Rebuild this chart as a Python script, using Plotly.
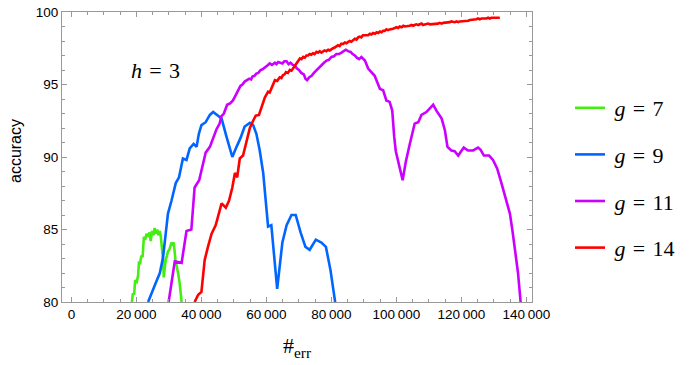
import plotly.graph_objects as go

# ---------------- data ----------------
g7_x = [18600, 18900, 19300, 19600, 20100, 20500, 20800, 21100, 21500, 21900, 22300, 22700,
        23100, 23500, 24000, 24400, 24800, 25200, 25600, 26000, 26400, 26800, 27200, 27500,
        27900, 28200, 28400, 28700, 29000, 29400, 29700, 30100, 30400, 30800, 31200, 31500,
        32000, 32500, 32900, 33300, 33600, 33900]
g7_y = [80.0, 80.6, 80.5, 81.5, 81.4, 81.8, 82.8, 82.6, 83.2, 83.1, 84.5, 84.3,
        84.7, 84.5, 84.8, 84.2, 84.9, 84.6, 85.1, 84.7, 85.0, 84.6, 84.9, 84.5,
        83.6, 82.9, 81.7, 82.5, 82.9, 83.2, 83.5, 83.6, 83.9, 84.1, 84.0, 84.1,
        82.9, 82.4, 81.9, 81.3, 80.7, 80.0]

g9_x = [23600, 24600, 25900, 27200, 28200, 29000, 29700, 30800, 32100, 33100, 34300, 35400,
        36400, 37600, 38500, 39200, 40000, 41300, 42600, 43600, 44800, 46200, 47700, 49500,
        50800, 52000, 53300, 54900, 55900, 56900, 57900, 59000, 60500, 61500, 63300, 64900,
        66200, 67700, 69000, 70500, 72000, 73300, 75200, 76900, 78300, 79700, 81200]
g9_y = [80.0, 80.6, 81.3, 82.0, 83.1, 84.7, 86.1, 87.0, 88.2, 88.6, 89.9, 89.8,
        90.6, 90.9, 90.7, 91.6, 92.2, 92.4, 92.9, 93.1, 92.9, 92.65, 91.4, 90.0,
        90.7, 91.3, 92.1, 92.35, 92.2, 91.6, 90.5, 88.9, 85.2, 85.3, 80.9, 84.1,
        85.3, 86.0, 86.0, 84.8, 83.8, 83.6, 84.3, 84.1, 83.8, 82.2, 79.9]

g11_x = [29900, 31100, 31800, 33900, 34900, 35400, 36900, 37900, 39300, 40300, 41300, 42600,
         43900, 44600, 45600, 46100, 46900, 47900, 48800, 49700, 50400, 51000, 52000, 52600,
         53300, 54000, 54700, 55300, 55700, 56300, 56900, 57500, 58200, 58800, 59500, 60200,
         61000, 61700, 62600, 63100, 63600, 64300, 64900, 65500, 66200, 66800, 67400, 68100,
         68700, 69400, 70000, 70700, 71500, 72000, 72500, 73200, 73900, 74600, 75400, 76100,
         76900, 77700, 78500, 79200, 80000, 80800, 81500, 82300, 83100, 83800, 84400, 85100,
         85900, 86500, 87200, 87800, 88500, 89200, 90300, 91300, 92300, 93300, 94000, 94900,
         95900, 96900, 97900, 98700, 99300, 99800, 101900, 102900, 104100, 105600, 106700, 107700,
         109200, 110800, 111300, 112300, 113900, 114900, 115700, 116900, 117900, 119000, 120700, 122000,
         123600, 125100, 125900, 126900, 128500, 129700, 131000, 132300, 133600, 134900, 135700, 136600,
         137400, 138200]
g11_y = [80.0, 81.7, 82.8, 82.7, 84.3, 84.9, 85.0, 87.9, 88.4, 89.3, 90.3, 90.7,
         91.5, 91.9, 92.3, 92.8, 93.0, 93.6, 93.7, 93.9, 94.2, 94.5, 94.9, 95.0,
         95.2, 95.3, 95.4, 95.35, 95.55, 95.6, 95.75, 95.8, 96.0, 96.05, 96.2, 96.3,
         96.45, 96.35, 96.5, 96.4, 96.55, 96.5, 96.45, 96.6, 96.6, 96.4, 96.5, 96.35,
         96.3, 96.1, 96.0, 95.8, 95.7, 95.4, 95.3, 95.5, 95.6, 95.8, 96.0, 96.15,
         96.3, 96.5, 96.65, 96.7, 96.9, 96.95, 97.1, 97.1, 97.2, 97.3, 97.4, 97.3,
         97.25, 97.1, 97.0, 96.85, 96.75, 96.9, 96.65, 96.1, 95.85, 95.6, 95.2, 94.7,
         94.6, 93.9, 93.8, 93.2, 91.4, 90.4, 88.4, 89.7, 90.9, 92.3, 92.4, 92.9,
         93.1, 93.45, 93.6, 93.2, 92.65, 91.85, 90.7, 90.45, 90.4, 90.1, 90.65, 90.45,
         90.45, 90.65, 90.5, 90.1, 90.1, 89.8, 89.2, 88.2, 87.1, 86.1, 84.9, 83.45,
         82.0, 80.0]

g14_x = [37900, 39000, 40000, 41000, 42000, 43100, 44400, 45400, 46200, 47500, 48500, 49500,
         50300, 51000, 51800, 52800, 53900, 54900, 55900, 56700, 57700, 58500, 59500, 60000,
         60500, 61000, 61500, 62000, 62600, 63300, 64100, 64600, 65100, 65600, 66000, 66600,
         67200, 67700, 68200, 68700, 69200, 69700, 70300, 70800, 71300, 71800, 72300, 72800,
         73300, 73800, 74300, 74800, 75400, 75900, 76400, 76900, 77400, 77900, 78400, 79000,
         79500, 80000, 80500, 81000, 81500, 82000, 82500, 83000, 83600, 84100, 84600, 85100,
         85600, 86100, 86700, 87200, 87700, 88200, 88700, 89200, 89700, 90300, 90800, 91300,
         91800, 92300, 92800, 93400, 93900, 94400, 94900, 95400, 95900, 96400, 96900, 97400,
         97900, 98400, 98900, 99500, 100000, 100500, 101000, 101600, 102100, 102600, 103100, 103600,
         104100, 104600, 105100, 105600, 106100, 106700, 107200, 107700, 108200, 108700, 109200, 109700,
         110300, 110800, 111300, 111800, 112300, 112800, 113300, 113900, 114400, 114900, 115400, 115900,
         116400, 116900, 117400, 117900, 118500, 119000, 119500, 120000, 120500, 121000, 121500, 122100,
         122600, 123100, 123600, 124100, 124600, 125100, 125600, 126200, 126700, 127200, 127700, 128200,
         128700, 129200, 129700, 130300, 130800, 131300, 131800]
g14_y = [80.0, 80.5, 80.7, 82.9, 83.8, 84.7, 85.3, 86.1, 86.8, 86.5, 87.0, 87.9,
         88.9, 88.6, 89.9, 90.1, 91.1, 92.0, 92.5, 92.85, 92.9, 93.45, 94.1, 94.3,
         94.5, 94.45, 94.7, 94.9, 95.3, 95.25, 95.5, 95.45, 95.65, 95.7, 95.85, 95.8,
         96.0, 95.95, 96.1, 96.3, 96.45, 96.6, 96.8, 96.75, 96.9, 96.85, 97.0, 97.0,
         97.1, 97.05, 97.15, 97.1, 97.25, 97.2, 97.3, 97.2, 97.25, 97.35, 97.3, 97.4,
         97.35, 97.45, 97.5, 97.55, 97.6, 97.7, 97.65, 97.8, 97.8, 97.9, 97.85, 97.95,
         98.0, 97.95, 98.05, 98.15, 98.1, 98.25, 98.3, 98.25, 98.4, 98.4, 98.45, 98.4,
         98.5, 98.45, 98.55, 98.5, 98.6, 98.55, 98.65, 98.6, 98.7, 98.7, 98.8, 98.75,
         98.8, 98.85, 98.85, 98.9, 98.95, 98.9, 99.0, 98.95, 99.05, 99.0, 99.0, 99.05,
         99.05, 99.1, 99.05, 99.1, 99.15, 99.1, 99.15, 99.2, 99.1, 99.15, 99.15, 99.2,
         99.15, 99.15, 99.2, 99.15, 99.2, 99.2, 99.25, 99.2, 99.25, 99.25, 99.3, 99.25,
         99.3, 99.35, 99.3, 99.3, 99.35, 99.3, 99.35, 99.35, 99.4, 99.35, 99.4, 99.4,
         99.45, 99.45, 99.5, 99.45, 99.5, 99.55, 99.5, 99.55, 99.55, 99.5, 99.55, 99.6,
         99.55, 99.6, 99.6, 99.65, 99.6, 99.65, 99.6]

series_names = ["\u2009<i>g</i>\u2004=\u20047", "\u2009<i>g</i>\u2004=\u20049",
                "\u2009<i>g</i>\u2004=\u200411", "\u2009<i>g</i>\u2004=\u200414"]
series_colors = ["#44ee11", "#0066ff", "#cc00ff", "#ff0000"]

x_tickvals = [0, 20000, 40000, 60000, 80000, 100000, 120000, 140000]
x_ticktext = ["0", "20\u2009000", "40\u2009000", "60\u2009000", "80\u2009000",
              "100\u2009000", "120\u2009000", "140\u2009000"]
y_tickvals = [80, 85, 90, 95, 100]
y_ticktext = ["80", "85", "90", "95", "100"]

# ---------------- figure ----------------
fig = go.Figure()
for i, (xs, ys) in enumerate([(g7_x, g7_y), (g9_x, g9_y), (g11_x, g11_y), (g14_x, g14_y)]):
    fig.add_trace(go.Scatter(
        x=xs, y=ys, mode="lines", name=series_names[i],
        legendgroup="g%d" % i,
        line=dict(color=series_colors[i], width=2.6),
    ))

axis_common = dict(
    showgrid=False, zeroline=False, showline=True, linecolor="#999999", linewidth=1,
    mirror="allticks", ticks="inside", ticklen=5, tickcolor="#999999", tickwidth=1,
    automargin=False, ticklabeloverflow="allow",
    tickfont=dict(family="Liberation Sans, Arial, sans-serif", size=13.5, color="#000"),
)

fig.update_xaxes(
    range=[-2900, 141700], tickmode="array", tickvals=x_tickvals, ticktext=x_ticktext,
    minor=dict(ticks="inside", ticklen=3, dtick=5000, tick0=0, tickcolor="#999999"),
    **axis_common,
)
fig.update_yaxes(
    range=[80, 100], tickmode="array", tickvals=y_tickvals, ticktext=y_ticktext,
    minor=dict(ticks="inside", ticklen=3, dtick=1, tick0=80, tickcolor="#999999"),
    **axis_common,
)

# the page body has an 8px default margin; compensate so the plot lands where intended
OFF = 8
W, H = 692, 365
L, R, T, B = 62 - OFF, 160 + OFF, 12 - OFF, 63 + OFF
PW, PH = W - L - R, H - T - B


def px_to_paper(px, py):
    return (px - OFF - L) / PW, 1 - (py - OFF - T) / PH


fig.add_annotation(x=26000, y=96, xref="x", yref="y", text="<i>h</i>\u2004=\u20043",
                   showarrow=False, xanchor="center", yanchor="middle",
                   font=dict(family="Liberation Serif, serif", size=22, color="#000"))
ax, ay = px_to_paper(15, 151)
fig.add_annotation(x=ax, y=ay, xref="paper", yref="paper", text="accuracy", showarrow=False,
                   textangle=-90, xanchor="center", yanchor="middle",
                   font=dict(family="Liberation Sans, Arial, sans-serif", size=16, color="#000"))
bx, by = px_to_paper(297, 347)
fig.add_annotation(x=bx, y=by, xref="paper", yref="paper", text="#<sub>err</sub>",
                   showarrow=False, xanchor="center", yanchor="middle",
                   font=dict(family="Liberation Serif, serif", size=22, color="#000"))

lx, ly = px_to_paper(570, 87)
fig.update_layout(
    width=W, height=H,
    margin=dict(l=L, r=R, t=T, b=B, autoexpand=False),
    paper_bgcolor="white", plot_bgcolor="white",
    showlegend=True,
    legend=dict(
        x=lx, xanchor="left", y=ly, yanchor="top",
        font=dict(family="Liberation Serif, serif", size=22, color="#000"),
        tracegroupgap=15, itemwidth=30, bgcolor="rgba(0,0,0,0)",
    ),
)

fig.write_html("out.html")
